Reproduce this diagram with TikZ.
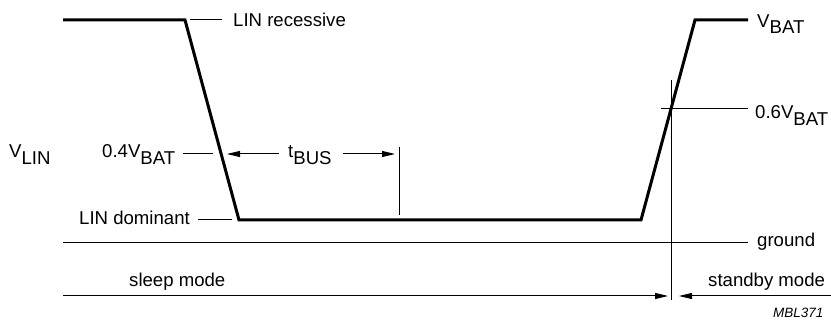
\documentclass[tikz,border=0pt]{standalone}
\usepackage{fontspec}
\setmainfont{Liberation Sans}
\usetikzlibrary{arrows.meta}
\newcommand{\lsub}[1]{\raisebox{-6.5pt}{#1}}
\tikzset{
  sig/.style={line width=3pt, line join=miter},
  thin/.style={line width=1pt},
  arr/.style={line width=1pt, -{Triangle[length=13pt,width=6pt]}},
  lbl/.style={anchor=base west, inner sep=0pt, font=\fontsize{18.6}{20}\selectfont},
  tag/.style={anchor=base west, inner sep=0pt, font=\fontsize{13.5}{15}\selectfont\itshape}
}
\begin{document}
\begin{tikzpicture}[x=1pt,y=-1pt]
\useasboundingbox (0,0) rectangle (831,320);
% signal corners
\coordinate (s0) at (63,20);
\coordinate (s1) at (185,20);
\coordinate (s2) at (239,220);
\coordinate (s3) at (641,220);
\coordinate (s4) at (695,20);
\coordinate (s5) at (748,20);
\draw[sig] (s0) -- (s1) -- (s2) -- (s3) -- (s4) -- (s5);
% labels
\node[lbl] (rec) at (233,27) {LIN recessive};
\coordinate (recA) at (190,20);
\coordinate (recB) at (222,20);
\draw[thin] (recA) -- (recB);
\node[lbl] (vbat) at (757,27.5) {V\lsub{BAT}};
\node[lbl] (v06) at (755,119) {0.6V\lsub{BAT}};
\coordinate (h06a) at (661,109);
\coordinate (h06b) at (748,109);
\draw[thin] (h06a) -- (h06b);
\coordinate (vtA) at (671,80);
\coordinate (vtB) at (671,300);
\draw[thin] (vtA) -- (vtB);
\node[lbl] (vlin) at (9,157.7) {V\lsub{LIN}};
\node[lbl] (v04) at (102,158) {0.4V\lsub{BAT}};
\coordinate (h04a) at (183,154);
\coordinate (h04b) at (213,154);
\draw[thin] (h04a) -- (h04b);
\node[lbl] (tbus) at (288,158) {t\lsub{BUS}};
\coordinate (tA) at (279,154);
\coordinate (tB) at (227,154);
\coordinate (tC) at (343,154);
\coordinate (tD) at (395,154);
\draw[arr] (tA) -- (tB);
\draw[arr] (tC) -- (tD);
\coordinate (tvA) at (399,147);
\coordinate (tvB) at (399,215);
\draw[thin] (tvA) -- (tvB);
\node[lbl] (dom) at (79,225) {LIN dominant};
\coordinate (domA) at (198,220);
\coordinate (domB) at (232,220);
\draw[thin] (domA) -- (domB);
\coordinate (gA) at (63,243);
\coordinate (gB) at (748,243);
\draw[thin] (gA) -- (gB);
\node[lbl] (gnd) at (757,247) {ground};
\node[lbl] (sleep) at (129,287) {sleep mode};
\node[lbl] (stby) at (708,287) {standby mode};
\coordinate (bA) at (63,296);
\coordinate (bB) at (668,296);
\coordinate (bC) at (831,296);
\coordinate (bD) at (679,296);
\draw[arr] (bA) -- (bB);
\draw[arr] (bC) -- (bD);
\node[tag] (mbl) at (773,317.5) {MBL371};
\end{tikzpicture}
\end{document}
